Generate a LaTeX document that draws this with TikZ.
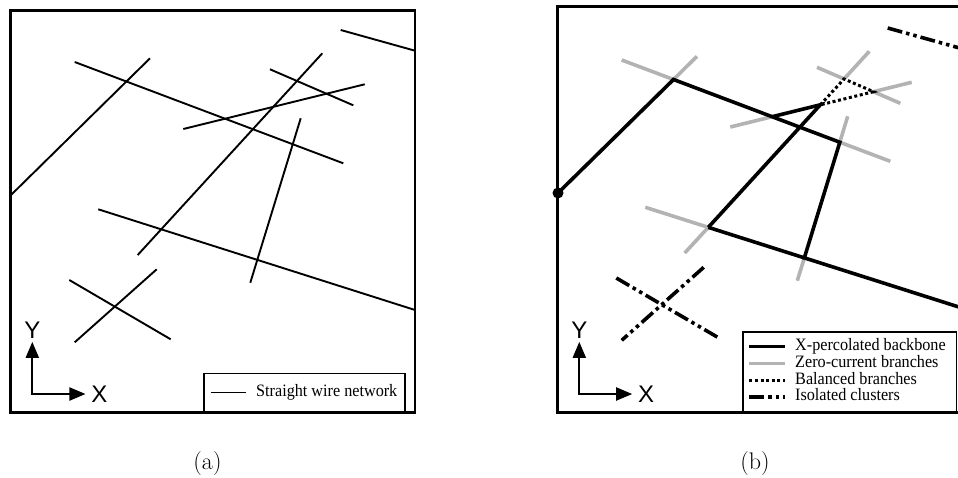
\documentclass[tikz,border=0pt]{standalone}
\usepackage{fontspec}
\newfontfamily\legendfont[FakeStretch=0.93]{Liberation Serif}
\newfontfamily\axisfont{Liberation Sans}
\usepackage{xcolor}
\definecolor{zerogray}{HTML}{B3B3B3}
\usetikzlibrary{arrows.meta, positioning}

% end points of the ten wires, panel (a) pixel frame
\newcommand{\wirecoords}[1]{%
  \foreach \n/\xs/\ys/\xe/\ye in {1/340.7/30/415/50.7, 2/74.7/62/343.3/163.3,
      3/150/58.3/11/195, 4/322.3/53.3/137.7/255, 5/270/69.3/353.3/105.3,
      6/364.7/84.3/183.3/129, 7/300.7/118.3/250.3/282.7, 8/98.3/209.3/415/310,
      9/69.3/280/170.7/339.3, 10/156.7/269.3/74.7/342.3}{
    \coordinate (#1s\n) at (\xs,\ys);
    \coordinate (#1e\n) at (\xe,\ye);
  }}

\begin{document}
\begin{tikzpicture}[
  x=1pt, y=-1pt,
  panel/.style={draw, line width=2.8pt},
  wire/.style={line width=1.9pt},
  backbone/.style={line width=3.6pt},
  zerocur/.style={line width=3.6pt, zerogray},
  balanced/.style={line width=3pt, dash pattern=on 3pt off 2.6pt},
  isolated/.style={line width=3.6pt, dash pattern=on 15pt off 4pt on 3.5pt off 4pt on 3.5pt off 4pt},
  axarrow/.style={line width=2pt, {Triangle[length=16pt,width=13pt]}-{Triangle[length=16pt,width=13pt]}},
  axlabel/.style={font=\axisfont\fontsize{24}{24}\selectfont, inner sep=0pt},
  legbox/.style={draw, line width=1.4pt, anchor=south west, inner sep=0pt},
  legtext/.style={font=\legendfont\fontsize{17.4}{17.4}\selectfont, anchor=west, inner sep=0pt, text height=11.5pt, text depth=3.8pt},
  caption/.style={font=\fontsize{24}{28}\selectfont, inner sep=0pt},
]
\useasboundingbox (0,0) rectangle (958,477);
\clip (0,0) rectangle (958,477);

% (a) straight wire network
\draw[panel] (10.5,10.5) rectangle (415,412.3);
\wirecoords{a}
\foreach \n in {1,...,10} \draw[wire] (as\n) -- (ae\n);

\node[axlabel] (ay) at (32.3,330.7) {Y};
\node[axlabel] (ax) at (99.3,394) {X};
\draw[axarrow, shorten <=2.7pt, shorten >=5.6pt] (ay.south) |- (ax.west);

\node[legbox, minimum width=201pt, minimum height=38pt] (aleg) at (203.3,412.3) {};
\draw[wire, line width=1.5pt] ([xshift=7.5pt]aleg.west) -- ++(35,0);
\node[legtext] (alegtxt) at ([xshift=52.7pt]aleg.west) {Straight wire network};

\node[caption] (capa) at (207.5,464) {(a)};

% (b) current-carrying structure
\draw[panel] (557.3,6.5) rectangle (961.5,412.3);
\begin{scope}[shift={(547,-2)}]
  \wirecoords{b}
\end{scope}

\coordinate (j32) at (intersection of bs3--be3 and bs2--be2);
\coordinate (j27) at (intersection of bs2--be2 and bs7--be7);
\coordinate (j78) at (intersection of bs7--be7 and bs8--be8);
\coordinate (j48) at (intersection of bs4--be4 and bs8--be8);
\coordinate (j46) at (intersection of bs4--be4 and bs6--be6);
\coordinate (j26) at (intersection of bs2--be2 and bs6--be6);
\coordinate (j45) at (intersection of bs4--be4 and bs5--be5);
\coordinate (j56) at (intersection of bs5--be5 and bs6--be6);

% dangling ends
\draw[zerocur] (bs3) -- (j32);
\draw[zerocur] (bs2) -- (j32);
\draw[zerocur] (j27) -- (be2);
\draw[zerocur] (bs7) -- (j27);
\draw[zerocur] (j78) -- (be7);
\draw[zerocur] (bs8) -- (j48);
\draw[zerocur] (j48) -- (be4);
\draw[zerocur] (bs4) -- (j45);
\draw[zerocur] (bs5) -- (j45);
\draw[zerocur] (j56) -- (be5);
\draw[zerocur] (bs6) -- (j56);
\draw[zerocur] (j26) -- (be6);

\draw[balanced] (j46) -- (j45) -- (j56) -- cycle;

\draw[backbone] (be3) -- (j32) -- (j27) -- (j78) -- (be8);
\draw[backbone] (j48) -- (j78);
\draw[backbone] (j48) -- (j46) -- (j26);
\fill (be3) circle (5.5pt);

\draw[isolated] (bs1) -- (be1);
\draw[isolated] (bs9) -- (be9);
\draw[isolated] (bs10) -- (be10);

\node[axlabel] (by) at (579.3,330.7) {Y};
\node[axlabel] (bx) at (646,394) {X};
\draw[axarrow, shorten <=2.7pt, shorten >=5.6pt] (by.south) |- (bx.west);

\node[legbox, minimum width=213.2pt, minimum height=79.6pt] (bleg) at (742.3,412.3) {};
\foreach \sty/\txt [count=\k] in {backbone/X-percolated backbone, zerocur/Zero-current branches,
    balanced/Balanced branches, isolated/Isolated clusters} {
  \draw[\sty] ([xshift=7pt, yshift={(2.5-\k)*16.8}]bleg.west) -- ++(35.7,0);
  \node[legtext] (bleg\k) at ([xshift=52.7pt, yshift={(2.5-\k)*16.8}]bleg.west) {\txt};
}

\node[caption] (capb) at (755,464) {(b)};
\end{tikzpicture}
\end{document}
